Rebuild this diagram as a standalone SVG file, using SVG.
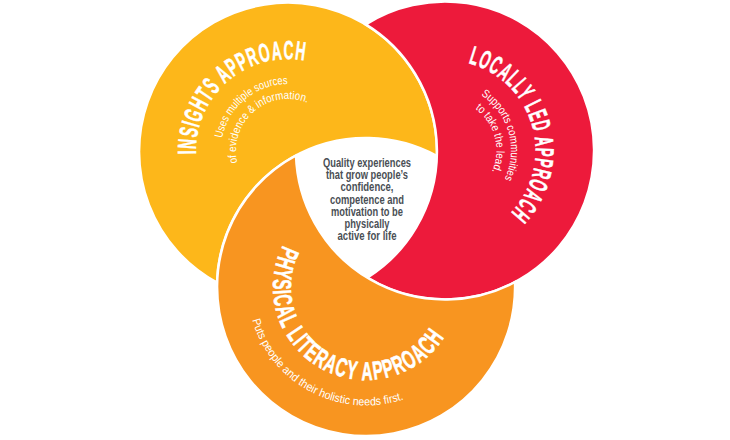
<svg xmlns="http://www.w3.org/2000/svg" width="730" height="440" viewBox="0 0 730 440">
<style>
.seg{stroke:#fff;stroke-width:2.5;stroke-linejoin:miter}
.head{font-family:"Liberation Sans",Arial,sans-serif;font-weight:700;font-size:26px;letter-spacing:2px;fill:#fff;stroke:#fff;stroke-width:.6px}
.body{font-family:"Liberation Sans",Arial,sans-serif;font-size:11.5px;fill:#fff}
.core{font-family:"Liberation Sans",Arial,sans-serif;font-weight:700;font-size:13px;fill:#4a4f55;text-anchor:middle}
</style>
<defs>
<path id="p1" d="M196,154.2 A92 92 0 0 1 305.6,60.7"/>
<path id="p2" d="M222.2,138.2 A67 67 0 0 1 288,84"/>
<path id="p3" d="M237.3,162.7 A52 52 0 0 1 307.5,102.8"/>
<path id="p4" d="M468.4,63.1 A90.5 90.5 0 0 1 510.2,213.4"/>
<path id="p5" d="M481,95.1 A66 66 0 0 1 504.3,179.4"/>
<path id="p6" d="M475.3,108.8 A51.5 51.5 0 0 1 492,171.4"/>
<path id="p7" d="M283,245.1 A93 93 0 0 0 444.7,336.6"/>
<path id="p8" d="M252.2,320 A118.5 118.5 0 0 0 404,399.2"/>
</defs>
<g id="insights">
<path class="seg" fill="#FDB71A" d="M437,156 A149 149 0 1 0 217,282.6 A149 149 0 0 1 437,156 Z"/>
<text class="head"><textPath href="#p1" textLength="165" lengthAdjust="spacingAndGlyphs">INSIGHTS APPROACH</textPath></text>
<text class="body"><textPath href="#p2" textLength="92" lengthAdjust="spacingAndGlyphs">Uses multiple sources</textPath></text>
<text class="body"><textPath href="#p3" textLength="113" lengthAdjust="spacingAndGlyphs">of evidence &amp; information.</textPath></text>
</g>
<g id="locally-led">
<path class="seg" fill="#ED1A3B" d="M365.7,24.4 A149 149 0 1 1 367.3,277.6 A149 149 0 0 0 365.7,24.4 Z"/>
<text class="head"><textPath href="#p4" textLength="188" lengthAdjust="spacingAndGlyphs">LOCALLY LED APPROACH</textPath></text>
<text class="body"><textPath href="#p5" textLength="95" lengthAdjust="spacingAndGlyphs">Supports communities</textPath></text>
<text class="body"><textPath href="#p6" textLength="70" lengthAdjust="spacingAndGlyphs">to take the lead.</textPath></text>
</g>
<g id="physical-literacy">
<path class="seg" fill="#F89520" d="M515,282 A149 149 0 1 1 296,155.5 A149 149 0 0 0 515,282 Z"/>
<text class="head"><textPath href="#p7" textLength="283" lengthAdjust="spacingAndGlyphs">PHYSICAL LITERACY APPROACH</textPath></text>
<text class="body"><textPath href="#p8" textLength="191" lengthAdjust="spacingAndGlyphs">Puts people and their holistic needs first.</textPath></text>
</g>
<g id="centre">
<text class="core" x="367" y="166.5" textLength="88" lengthAdjust="spacingAndGlyphs">Quality experiences</text>
<text class="core" x="367" y="179" textLength="82" lengthAdjust="spacingAndGlyphs">that grow people’s</text>
<text class="core" x="367" y="191" textLength="53" lengthAdjust="spacingAndGlyphs">confidence,</text>
<text class="core" x="367" y="203.5" textLength="74" lengthAdjust="spacingAndGlyphs">competence and</text>
<text class="core" x="367" y="216" textLength="72" lengthAdjust="spacingAndGlyphs">motivation to be</text>
<text class="core" x="367" y="228" textLength="45" lengthAdjust="spacingAndGlyphs">physically</text>
<text class="core" x="367" y="240" textLength="59" lengthAdjust="spacingAndGlyphs">active for life</text>
</g>
</svg>
